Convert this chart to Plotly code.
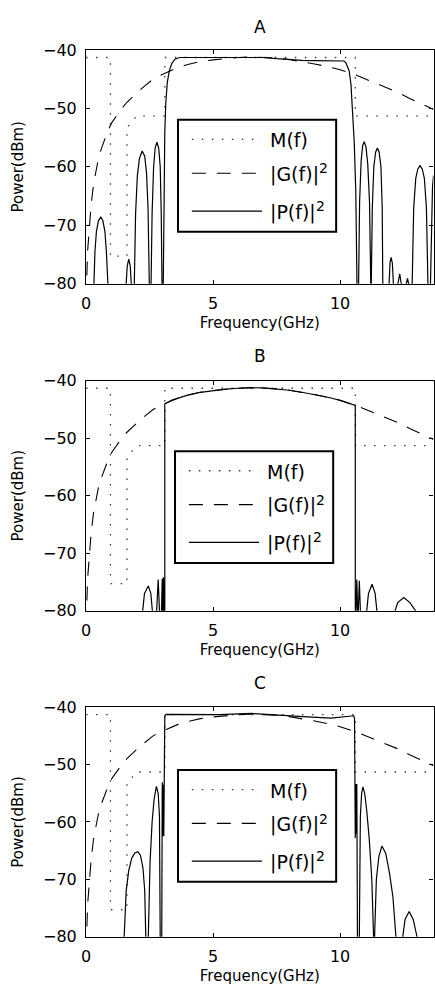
import plotly.graph_objects as go

# ---------------- data ----------------
freq_mask = [0.0, 0.96, 0.96, 1.61, 1.61, 1.99, 3.1, 3.1, 10.6, 10.6, 13.68]
mask_dbm = [-41.3, -41.3, -75.3, -75.3, -53.3, -51.3, -51.3, -41.3, -41.3, -51.3, -51.3]

freq_g = [0.0, 0.02, 0.06, 0.12, 0.2, 0.3, 0.4, 0.5, 0.61, 0.75, 0.89, 1.02, 1.2, 1.41,
          1.6, 1.8, 2.04, 2.3, 2.64, 2.84, 3.1, 3.36, 3.62, 4.0, 4.5, 5.0, 5.5, 6.0, 6.5,
          7.0, 7.5, 8.0, 8.5, 9.0, 9.65, 10.0, 10.62, 11.2, 11.82, 12.3, 12.74, 13.2, 13.68]
g_dbm = [-100, -80, -74.5, -70.2, -66.5, -62.8, -60.2, -58.3, -56.8, -55.0, -53.5, -52.4,
         -51.2, -50.0, -49.0, -48.1, -47.2, -46.2, -45.0, -44.5, -44.0, -43.4, -43.0, -42.5,
         -42.0, -41.7, -41.45, -41.3, -41.2, -41.25, -41.4, -41.65, -42.0, -42.4, -43.0,
         -43.4, -44.3, -45.3, -46.4, -47.3, -48.3, -49.2, -50.2]

# panel A : |P(f)|^2
freq_pa = [0.0, 0.29,
           0.31, 0.35, 0.41, 0.49, 0.58, 0.66, 0.74, 0.80, 0.86, 0.88,
           1.56, 1.58, 1.62, 1.68, 1.74, 1.78, 1.80,
           1.88, 1.90, 1.95, 2.02, 2.10, 2.21, 2.31, 2.38, 2.44, 2.49, 2.51,
           2.54, 2.56, 2.60, 2.66, 2.72, 2.79, 2.86, 2.92, 2.96, 2.99, 3.01,
           3.03, 3.04, 3.07, 3.10, 3.14, 3.20, 3.28, 3.38, 3.50, 3.68, 4.5, 5.5, 6.5,
           7.0, 7.5, 8.0, 8.5, 9.0, 9.5, 10.04, 10.15, 10.23, 10.36, 10.43, 10.49, 10.56,
           10.62, 10.69, 10.71,
           10.73, 10.77, 10.83, 10.89, 10.95, 11.02, 11.09, 11.16, 11.21, 11.22,
           11.23, 11.27, 11.33, 11.40, 11.47, 11.54, 11.61, 11.66, 11.70, 11.71,
           11.91, 11.93, 11.97, 12.01, 12.06, 12.10, 12.11,
           12.26, 12.28, 12.35, 12.41, 12.42,
           12.59, 12.61, 12.655, 12.70, 12.71,
           12.82, 12.84, 12.90, 12.98, 13.06, 13.15, 13.24, 13.32, 13.40, 13.46, 13.48,
           13.52, 13.56, 13.60, 13.64, 13.68]
pa_dbm = [-95, -95,
          -80, -74.5, -71.0, -69.2, -68.6, -69.2, -71.0, -74.5, -80, -95,
          -95, -80, -77.0, -75.8, -77.0, -80, -95,
          -95, -80, -68.0, -61.5, -58.6, -57.3, -58.2, -61.0, -67.0, -80, -95,
          -95, -80, -68.0, -60.0, -56.8, -55.8, -56.8, -60.0, -68.0, -80, -95,
          -95, -80, -62.0, -54.0, -49.0, -45.5, -43.5, -42.3, -41.6, -41.3, -41.3, -41.35,
          -41.3, -41.3, -41.5, -41.7, -41.8, -41.85, -41.85, -41.8, -41.9, -42.2, -43.6,
          -45.9, -50.3, -55.9, -64.3, -78.0, -95,
          -80, -66.0, -59.0, -56.4, -55.7, -56.6, -59.5, -66.0, -80, -95,
          -80, -67.0, -60.0, -57.5, -56.8, -57.5, -60.0, -67.0, -80, -95,
          -95, -80, -76.3, -75.5, -76.5, -80, -95,
          -95, -80, -78.3, -80, -95,
          -95, -80, -79.1, -80, -95,
          -95, -80, -67.0, -62.0, -60.4, -59.8, -60.4, -62.0, -67.0, -80, -95,
          -95, -80, -68.0, -63.5, -61.5]

# panel B : |P(f)|^2
freq_pb = [0.0, 2.21, 2.23, 2.30, 2.45, 2.55, 2.61, 2.62,
           2.76, 2.78, 2.84, 2.89, 2.90,
           2.95, 2.97, 3.00, 3.02, 3.03, 3.05, 3.07, 3.09, 3.10,
           3.10, 3.36, 3.62, 4.0, 4.5, 5.0, 5.5, 6.0, 6.5, 7.0, 7.5, 8.0, 8.5, 9.0, 9.65,
           10.0, 10.6, 10.6, 10.61,
           10.62, 10.63, 10.66, 10.69, 10.70, 10.71, 10.72, 10.76, 10.80, 10.81,
           11.03, 11.05, 11.12, 11.26, 11.38, 11.45, 11.46,
           12.15, 12.17, 12.27, 12.51, 12.75, 12.97, 12.99, 13.68]
pb_dbm = [-95, -95, -80, -77.0, -75.7, -77.0, -80, -95,
          -95, -80, -74.6, -80, -95,
          -95, -80, -74.4, -80, -80, -74.2, -80, -95, -80,
          -44.0, -43.4, -43.0, -42.5, -42.0, -41.7, -41.45, -41.3, -41.2, -41.25, -41.4,
          -41.65, -42.0, -42.4, -43.0, -43.4, -44.3, -80, -95,
          -95, -80, -74.6, -80, -95, -95, -80, -74.8, -80, -95,
          -95, -80, -77.0, -75.4, -77.0, -80, -95,
          -95, -80, -78.6, -77.7, -78.6, -80, -95, -95]

# panel C : |P(f)|^2
freq_pc = [0.0, 1.48, 1.50, 1.58, 1.68, 1.80, 1.92, 2.04, 2.14, 2.24, 2.31, 2.38, 2.39,
           2.43, 2.45, 2.52, 2.60, 2.68, 2.77, 2.84, 2.89, 2.93, 2.94,
           2.97, 2.99, 3.00, 3.02, 3.04, 3.06, 3.08, 3.10, 3.15, 3.93, 5.23, 6.53, 7.82,
           8.73, 9.64, 10.17, 10.54, 10.57, 10.60, 10.62, 10.64, 10.66, 10.68, 10.70,
           10.73, 10.75, 10.80, 10.85, 10.90, 10.97, 11.05, 11.15, 11.25, 11.32, 11.33,
           11.35, 11.36, 11.43, 11.53, 11.65, 11.80, 11.95, 12.08, 12.20, 12.21,
           12.45, 12.47, 12.56, 12.72, 12.88, 13.03, 13.05, 13.68]
pc_dbm = [-95, -95, -80, -72.0, -68.5, -66.3, -65.4, -65.2, -65.8, -68.0, -72.0, -80, -95,
          -95, -80, -67.0, -60.0, -56.0, -53.8, -55.0, -59.0, -80, -95,
          -95, -80, -53.1, -62.5, -53.5, -62.5, -45.0, -41.5, -41.25, -41.25, -41.3, -41.1,
          -41.5, -41.7, -41.9, -41.7, -41.5, -42.0, -62.8, -53.4, -62.0, -53.4, -80, -95,
          -95, -80, -59.0, -55.0, -53.9, -55.0, -58.0, -63.0, -70.0, -80, -95,
          -95, -80, -70.0, -66.0, -64.2, -65.5, -69.0, -73.0, -80, -95,
          -95, -80, -77.0, -75.6, -77.0, -80, -95, -95]

panel_titles = ["A", "B", "C"]
x_ticks = [0, 5, 10]
y_ticks = [-80, -70, -60, -50, -40]
legend_labels = ["M(f)", "|G(f)|", "|P(f)|"]
legend_exponents = ["", "2", "2"]

# ---------------- layout geometry (pixels) ----------------
W, H = 435, 999
FONT = "DejaVu Sans"
LEG_FONT = 19
SUP_FONT = 14
label_em = [1.995, 2.581, 2.409]  # DejaVu Sans advance widths of the labels (em)
plot_left, plot_right = 82.0, 433.5
panel_rows = [(41.7, 280.0), (379.0, 613.3), (711.7, 945.7)]
title_y = [18.0, 354.0, 687.0]
legend_boxes = [(175.0, 113.0), (172.0, 450.7), (175.0, 775.7)]  # top-left
LEG_W, LEG_H = 160.0, 114.0
leg_rows = [20.0, 54.5, 93.0]

mask_style = dict(color="#3a3a3a", width=1.3, dash="1.5px,8.5px")
g_style = dict(color="black", width=1.1, dash="14px,11px")
p_style = dict(color="black", width=1.2)
styles = [mask_style, g_style, p_style]

fig = go.Figure()
p_sets = [(freq_pa, pa_dbm), (freq_pb, pb_dbm), (freq_pc, pc_dbm)]
shapes = []
annotations = []
for i, (top, bot) in enumerate(panel_rows):
    sfx = "" if i == 0 else str(i + 1)
    xa, ya = "x" + sfx, "y" + sfx
    pw, ph = plot_right - plot_left, bot - top

    def dx(x):  # pixel -> x-domain fraction
        return (x - plot_left) / pw

    def dy(y):  # pixel -> y-domain fraction
        return (bot - y) / ph

    fig.add_trace(go.Scatter(x=freq_mask, y=mask_dbm, mode="lines", line=mask_style,
                             xaxis=xa, yaxis=ya, showlegend=False, hoverinfo="skip"))
    fig.add_trace(go.Scatter(x=freq_g, y=g_dbm, mode="lines", line=g_style,
                             xaxis=xa, yaxis=ya, showlegend=False, hoverinfo="skip"))
    fx, fy = p_sets[i]
    fig.add_trace(go.Scatter(x=fx, y=fy, mode="lines", line=p_style,
                             xaxis=xa, yaxis=ya, showlegend=False, hoverinfo="skip"))
    axis_common = dict(showline=True, linecolor="black", linewidth=1.2, mirror="ticks",
                       ticks="inside", ticklen=4, tickwidth=1, tickcolor="black",
                       showgrid=False, zeroline=False, fixedrange=True,
                       ticklabelstandoff=5,
                       tickfont=dict(family=FONT, size=16, color="black"))
    fig.layout["xaxis" + sfx] = dict(
        domain=[plot_left / W, plot_right / W], anchor=ya, range=[0, 13.68],
        tickvals=x_ticks, ticktext=[str(v) for v in x_ticks],
        title=dict(text="Frequency(GHz)", font=dict(family=FONT, size=15, color="black"),
                   standoff=5),
        **axis_common)
    fig.layout["yaxis" + sfx] = dict(
        domain=[1 - bot / H, 1 - top / H], anchor=xa, range=[-80, -40],
        tickvals=y_ticks, ticktext=["\u2212" + str(abs(v)) for v in y_ticks],
        title=dict(text="Power(dBm)", font=dict(family=FONT, size=15, color="black"),
                   standoff=15),
        **axis_common)
    xr, yr = xa + " domain", ya + " domain"
    annotations.append(dict(text=panel_titles[i], x=0.5, y=dy(title_y[i]),
                            xref=xr, yref=yr,
                            xanchor="center", yanchor="middle", showarrow=False,
                            font=dict(family=FONT, size=17, color="black")))
    # manual legend
    bx, by = legend_boxes[i]
    shapes.append(dict(type="rect", xref=xr, yref=yr,
                       x0=dx(bx), x1=dx(bx + LEG_W), y0=dy(by + LEG_H), y1=dy(by),
                       line=dict(color="black", width=2), fillcolor="white", layer="above"))
    for k in range(3):
        row = by + leg_rows[k]
        shapes.append(dict(type="line", xref=xr, yref=yr,
                           x0=dx(bx + 14), x1=dx(bx + 85), y0=dy(row), y1=dy(row),
                           line=styles[k], layer="above"))
        tx = bx + 91
        annotations.append(dict(text=legend_labels[k], x=dx(tx), y=dy(row + 1),
                                xref=xr, yref=yr, xanchor="left",
                                yanchor="middle", showarrow=False,
                                font=dict(family=FONT, size=LEG_FONT, color="black")))
        if legend_exponents[k]:
            sx = tx + label_em[k] * LEG_FONT + 0.5
            annotations.append(dict(text=legend_exponents[k], x=dx(sx), y=dy(row - 5),
                                    xref=xr, yref=yr, xanchor="left",
                                    yanchor="middle", showarrow=False,
                                    font=dict(family=FONT, size=SUP_FONT, color="black")))

fig.update_layout(width=W, height=H, margin=dict(l=0, r=0, t=0, b=0),
                  paper_bgcolor="white", plot_bgcolor="white",
                  shapes=shapes, annotations=annotations, showlegend=False)
fig.write_html("out.html")
